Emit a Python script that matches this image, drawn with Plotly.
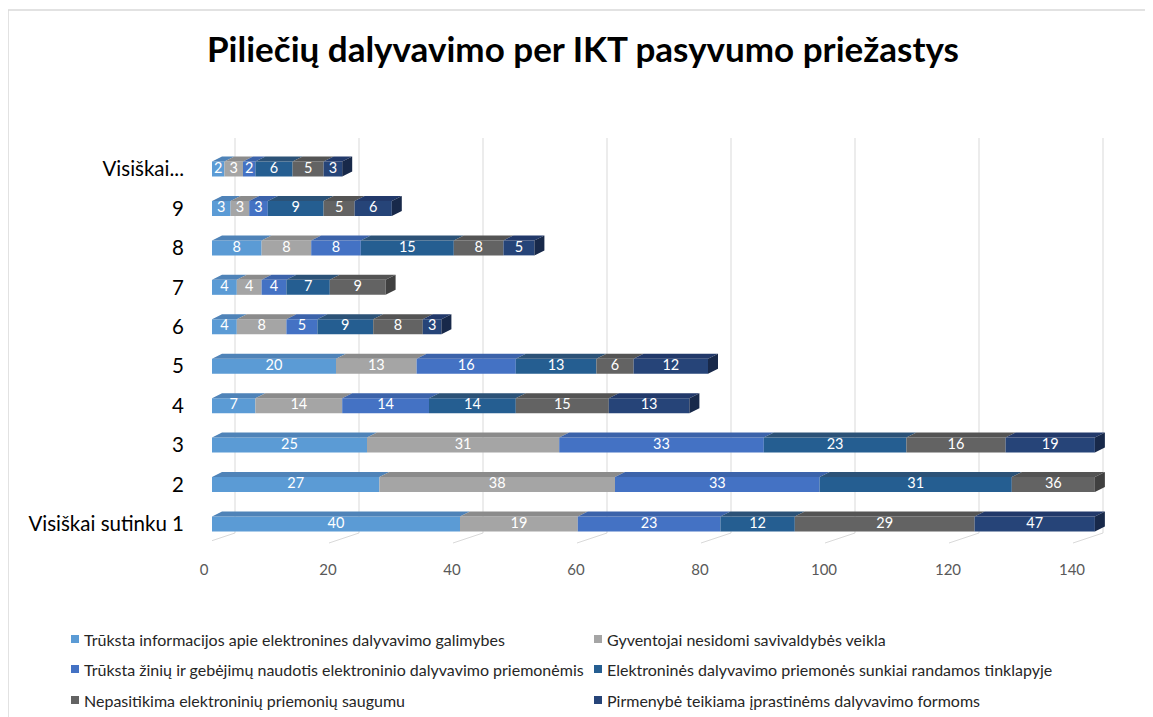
import numpy as np
import plotly.graph_objects as go

# --- data --------------------------------------------------------------------
categories = ["Visiškai sutinku 1", "2", "3", "4", "5", "6", "7", "8", "9", "Visiškai..."]
series_names = [
    "Trūksta informacijos apie elektronines dalyvavimo galimybes",
    "Gyventojai nesidomi savivaldybės veikla",
    "Trūksta žinių ir gebėjimų naudotis elektroninio dalyvavimo priemonėmis",
    "Elektroninės dalyvavimo priemonės sunkiai randamos tinklapyje",
    "Nepasitikima elektroninių priemonių saugumu",
    "Pirmenybė teikiama įprastinėms dalyvavimo formoms",
]
info_trukumas = [40, 27, 25, 7, 20, 4, 4, 8, 3, 2]
nesidomi = [19, 38, 31, 14, 13, 8, 4, 8, 3, 3]
ziniu_trukumas = [23, 33, 33, 14, 16, 5, 4, 8, 3, 2]
sunkiai_randamos = [12, 31, 23, 14, 13, 9, 7, 15, 9, 6]
nepasitikejimas = [29, 36, 16, 15, 6, 8, 9, 8, 5, 5]
iprastines = [47, None, 19, 13, 12, 3, None, 5, 6, 3]
x_ticks = [0, 20, 40, 60, 80, 100, 120, 140]

series_values = [info_trukumas, nesidomi, ziniu_trukumas, sunkiai_randamos, nepasitikejimas, iprastines]
front_colors = ["#5B9BD5", "#A5A5A5", "#4472C4", "#255E91", "#636363", "#264478"]
top_colors = ["#4F83B8", "#8B8B8B", "#3C63AA", "#2C5277", "#545454", "#22396A"]
side_colors = ["#3F6E9E", "#747474", "#31528E", "#1C4467", "#404040", "#18294A"]

# --- geometry (pixels of the 1153x717 screenshot) -----------------------------
W, H = 1153, 717
PAGE_OFF = 8          # the html body margin moves the figure by 8px
PX_PER_UNIT = 6.2
X_LEFT = 212
X_RANGE = 145
CLIP = 142.4          # the value axis stops here, bars are cut off
Y_BOTTOM, Y_TOP = 543.7, 149.3
ROW_PX = (Y_BOTTOM - Y_TOP) / len(categories)
HALF = 0.19           # half bar height (row units)
DX = 10 / PX_PER_UNIT  # 3d depth, value units
DY = 5 / ROW_PX        # 3d depth, row units
LEGEND_COLS = [82, 605]
LEGEND_ROWS = [639, 669, 700]


def px(p):
    return (p - PAGE_OFF) / W


def py(p):
    return 1 - (p - PAGE_OFF) / H


fig = go.Figure()

vals = np.array([[np.nan if v is None else v for v in s] for s in series_values], dtype=float)
filled = np.nan_to_num(vals)
ends = np.cumsum(filled, axis=0)
starts = ends - filled
vis_start = np.minimum(starts, CLIP)
vis_end = np.minimum(ends, CLIP)
rows = np.arange(len(categories))

# last visible segment per row -> gets the side face
last_idx = np.array([max(k for k in range(len(series_values)) if filled[k, r] > 0 and vis_start[k, r] < CLIP)
                     for r in rows])

for k, name in enumerate(series_names):
    ok = (filled[k] > 0) & (vis_start[k] < CLIP)
    fig.add_trace(go.Bar(
        y=rows[ok], x=(vis_end[k] - vis_start[k])[ok], base=vis_start[k][ok],
        orientation="h", width=2 * HALF, name=name,
        marker=dict(color=front_colors[k], line=dict(width=0)),
        showlegend=False, hoverinfo="skip",
    ))
    # top face of every segment
    tx, ty = [], []
    for r in rows[ok]:
        s, e = vis_start[k, r], vis_end[k, r]
        tx += [s, e, e + DX, s + DX, s, None]
        ty += [r + HALF, r + HALF, r + HALF + DY, r + HALF + DY, r + HALF, None]
    fig.add_trace(go.Scatter(x=tx, y=ty, mode="lines", fill="toself", fillcolor=top_colors[k],
                             line=dict(width=0, color=top_colors[k]), showlegend=False, hoverinfo="skip"))
    # side face at the end of the bar
    sx, sy = [], []
    for r in rows[last_idx == k]:
        e = vis_end[k, r]
        sx += [e, e + DX, e + DX, e, e, None]
        sy += [r - HALF, r - HALF + DY, r + HALF + DY, r + HALF, r - HALF, None]
    if sx:
        fig.add_trace(go.Scatter(x=sx, y=sy, mode="lines", fill="toself", fillcolor=side_colors[k],
                                 line=dict(width=0, color=side_colors[k]), showlegend=False, hoverinfo="skip"))

# data labels, centred in the visible part of each segment
lx, ly, lt = [], [], []
for k in range(len(series_names)):
    for r in rows:
        if filled[k, r] > 0 and vis_start[k, r] < CLIP:
            lx.append((vis_start[k, r] + vis_end[k, r]) / 2)
            ly.append(r)
            lt.append(str(int(vals[k, r])))
fig.add_trace(go.Scatter(x=lx, y=ly, text=lt, mode="text", showlegend=False, hoverinfo="skip",
                         textfont=dict(family="Lato", size=14.5, color="white")))

# back-wall gridlines, floor edges and the category axis line
shapes = []
grid = dict(color="#D9D9D9", width=1)
for v in x_ticks:
    shapes.append(dict(type="line", xref="x", yref="paper", xsizemode="pixel", xanchor=v,
                       x0=23, x1=23, y0=py(533), y1=py(138), line=grid, layer="below"))
    shapes.append(dict(type="line", xref="x", yref="paper", xsizemode="pixel", xanchor=v,
                       x0=23, x1=-7, y0=py(533), y1=py(543), line=grid, layer="below"))
shapes.append(dict(type="line", xref="x", yref="paper", xsizemode="pixel", xanchor=0,
                   x0=-7, x1=-7, y0=py(543), y1=py(152), line=grid, layer="below"))
# chart-area border
shapes.append(dict(type="rect", xref="paper", yref="paper", x0=px(8), x1=1.05, y0=-0.05, y1=py(10),
                   line=dict(color="#D9D9D9", width=1.5), layer="below"))

# legend: two columns, three rows, small square keys
annotations = []
for k, name in enumerate(series_names):
    lx0 = LEGEND_COLS[k % 2]
    ly0 = LEGEND_ROWS[k // 2]
    shapes.append(dict(type="rect", xref="paper", yref="paper", x0=px(lx0 - 11), x1=px(lx0 - 3),
                       y0=py(ly0 + 4), y1=py(ly0 - 4), fillcolor=front_colors[k], line=dict(width=0)))
    annotations.append(dict(text=name, xref="paper", yref="paper", x=px(lx0), y=py(ly0),
                            xanchor="left", yanchor="middle", showarrow=False,
                            font=dict(family="Lato", size=16, color="#262626")))

fig.update_layout(
    width=W, height=H, margin=dict(l=0, r=0, t=0, b=0, autoexpand=False),
    paper_bgcolor="white", plot_bgcolor="rgba(0,0,0,0)",
    barmode="overlay", shapes=shapes, annotations=annotations, showlegend=False,
    font=dict(family="Lato"),
    title=dict(text="<b>Piliečių dalyvavimo per IKT pasyvumo priežastys</b>",
               x=px(583), xanchor="center", y=py(50), yanchor="middle",
               font=dict(family="Lato", size=35, color="black")),
    xaxis=dict(domain=[px(X_LEFT), px(X_LEFT + X_RANGE * PX_PER_UNIT)], range=[0, X_RANGE],
               tickvals=x_ticks, showgrid=False, zeroline=False, showline=False, ticks="",
               ticklabelshift=-8, ticklabelstandoff=15,
               tickfont=dict(family="Lato", size=15, color="#595959")),
    yaxis=dict(domain=[py(Y_BOTTOM), py(Y_TOP)], range=[-0.5, len(categories) - 0.5],
               tickvals=list(rows), ticktext=categories, showgrid=False, zeroline=False,
               showline=False, ticks="", ticklabelstandoff=27,
               tickfont=dict(family="Lato", size=20.5, color="black")),
)

fig.write_html("out.html")
